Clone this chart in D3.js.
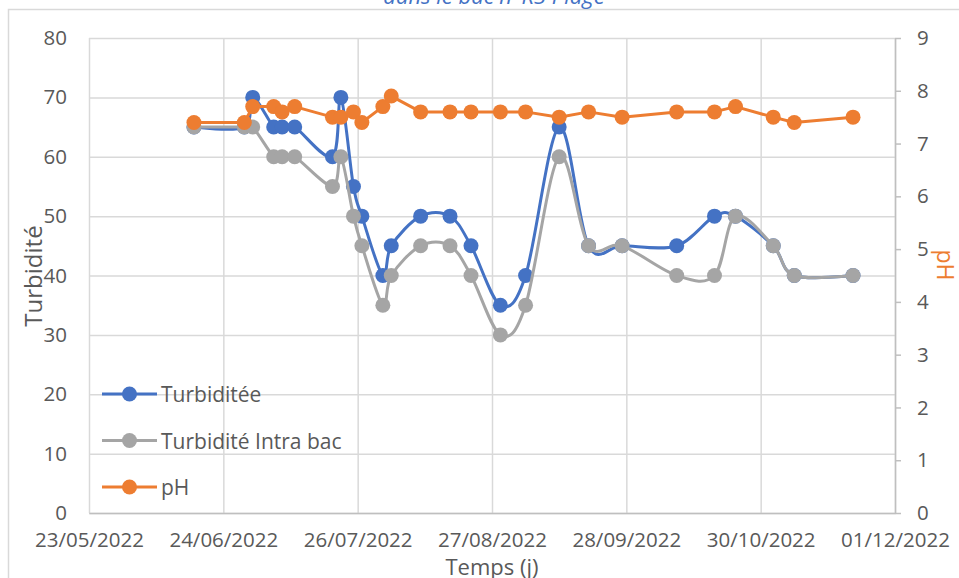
<!DOCTYPE html>
<html>
<head>
<meta charset="utf-8">
<script src="https://cdn.jsdelivr.net/npm/d3@7"></script>
<style>
  body { margin: 0; background: #fff; }
  svg { display: block; font-family: "Open Sans", sans-serif; }
</style>
</head>
<body>
<div id="chart"></div>
<script>
// sample dates (dd/mm/yyyy) and the three measured series
const dates = ['17/06/2022', '29/06/2022', '01/07/2022', '06/07/2022', '08/07/2022', '11/07/2022',
  '20/07/2022', '22/07/2022', '25/07/2022', '27/07/2022', '01/08/2022', '03/08/2022',
  '10/08/2022', '17/08/2022', '22/08/2022', '29/08/2022', '04/09/2022', '12/09/2022',
  '19/09/2022', '27/09/2022', '10/10/2022', '19/10/2022', '24/10/2022', '02/11/2022',
  '07/11/2022', '21/11/2022'];
const turbidite = [65, 65, 70, 65, 65, 65, 60, 70, 55, 50, 40, 45, 50, 50, 45, 35, 40, 65, 45, 45, 45, 50, 50, 45, 40, 40];
const turbiditeIntra = [65, 65, 65, 60, 60, 60, 55, 60, 50, 45, 35, 40, 45, 45, 40, 30, 35, 60, 45, 45, 40, 40, 50, 45, 40, 40];
const ph = [7.4, 7.4, 7.7, 7.7, 7.6, 7.7, 7.5, 7.5, 7.6, 7.4, 7.7, 7.9, 7.6, 7.6, 7.6, 7.6, 7.6, 7.5, 7.6, 7.5, 7.6, 7.6, 7.7, 7.5, 7.4, 7.5];

const xTicks = ['23/05/2022', '24/06/2022', '26/07/2022', '27/08/2022', '28/09/2022', '30/10/2022', '01/12/2022'];
const leftTicks = [0, 10, 20, 30, 40, 50, 60, 70, 80];
const rightTicks = [0, 1, 2, 3, 4, 5, 6, 7, 8, 9];

const seriesNames = ['Turbiditée', 'Turbidité Intra bac', 'pH'];
const colors = ['#4472C4', '#A5A5A5', '#ED7D31'];

const width = 959, height = 578;
const plot = { left: 89, right: 895, top: 38, bottom: 513 };
const textColor = '#595959';

const parse = d3.timeParse('%d/%m/%Y');
const fmt = d3.timeFormat('%d/%m/%Y');

const svg = d3.select('#chart').append('svg')
  .attr('width', width)
  .attr('height', height);

// chart frame (title box sits cut off above it)
svg.append('rect')
  .attr('x', 8.5).attr('y', 9.5)
  .attr('width', width + 20).attr('height', height + 20)
  .attr('fill', 'none').attr('stroke', '#d9d9d9').attr('stroke-width', 1.5);

svg.append('text')
  .attr('x', 494).attr('y', 4)
  .attr('text-anchor', 'middle')
  .attr('font-size', 22).attr('font-style', 'italic')
  .attr('fill', '#4472C4')
  .text('dans le bac n°R3 Plage');

const x = d3.scaleTime()
  .domain([parse(xTicks[0]), parse(xTicks[xTicks.length - 1])])
  .range([plot.left, plot.right]);
const yL = d3.scaleLinear().domain([0, 80]).range([plot.bottom, plot.top]);
const yR = d3.scaleLinear().domain([0, 9]).range([plot.bottom, plot.top]);

// gridlines
svg.append('g')
  .attr('transform', `translate(0,${plot.bottom})`)
  .call(d3.axisBottom(x).tickValues(xTicks.map(parse)).tickSize(-(plot.bottom - plot.top)).tickFormat(''))
  .call(g => g.select('.domain').remove())
  .call(g => g.selectAll('line').attr('stroke', '#d9d9d9').attr('stroke-width', 1.5));

svg.append('g')
  .attr('transform', `translate(${plot.left},0)`)
  .call(d3.axisLeft(yL).tickValues(leftTicks).tickSize(-(plot.right - plot.left)).tickFormat(''))
  .call(g => g.select('.domain').remove())
  .call(g => g.selectAll('line').attr('stroke', '#d9d9d9').attr('stroke-width', 1.5));

// bottom axis labels
const xAxis = svg.append('g')
  .attr('transform', `translate(0,${plot.bottom})`)
  .call(d3.axisBottom(x).tickValues(xTicks.map(parse)).tickSize(0).tickPadding(19).tickFormat(fmt));
xAxis.select('.domain').attr('stroke', '#bfbfbf').attr('stroke-width', 1.5);
xAxis.selectAll('text').attr('font-size', 20.5).attr('fill', textColor).attr('font-family', 'Open Sans');

// left axis labels
const yAxisL = svg.append('g')
  .attr('transform', `translate(${plot.left},0)`)
  .call(d3.axisLeft(yL).tickValues(leftTicks).tickSize(0).tickPadding(22));
yAxisL.select('.domain').remove();
yAxisL.selectAll('text').attr('font-size', 20.5).attr('fill', textColor).attr('font-family', 'Open Sans');

// right axis with small outward ticks
const yAxisR = svg.append('g')
  .attr('transform', `translate(${plot.right},0)`)
  .call(d3.axisRight(yR).tickValues(rightTicks).tickSizeInner(6).tickSizeOuter(0).tickPadding(16));
yAxisR.select('.domain').attr('stroke', '#bfbfbf').attr('stroke-width', 1.5);
yAxisR.selectAll('line').attr('stroke', '#bfbfbf').attr('stroke-width', 1.5);
yAxisR.selectAll('text').attr('font-size', 20.5).attr('fill', textColor).attr('font-family', 'Open Sans');

// axis titles
svg.append('text')
  .attr('transform', 'translate(32,276) rotate(-90)')
  .attr('text-anchor', 'middle').attr('dominant-baseline', 'central')
  .attr('font-size', 24).attr('fill', textColor)
  .text('Turbidité');
svg.append('text')
  .attr('transform', 'translate(946,265) rotate(90)')
  .attr('text-anchor', 'middle').attr('dominant-baseline', 'central')
  .attr('font-size', 23).attr('fill', '#ED7D31')
  .text('pH');
svg.append('text')
  .attr('x', 492).attr('y', 566)
  .attr('text-anchor', 'middle').attr('dominant-baseline', 'central')
  .attr('font-size', 22).attr('fill', textColor)
  .text('Temps (j)');

// series: turbidity lines smoothed like excel, pH straight
const series = [
  { values: turbidite, y: yL, curve: d3.curveCardinal.tension(0) },
  { values: turbiditeIntra, y: yL, curve: d3.curveCardinal.tension(0) },
  { values: ph, y: yR, curve: d3.curveLinear },
];

series.forEach((s, i) => {
  const pts = dates.map((d, j) => ({ date: parse(d), v: s.values[j] }));
  const line = d3.line().x(d => x(d.date)).y(d => s.y(d.v)).curve(s.curve);
  const g = svg.append('g');
  g.append('path')
    .datum(pts)
    .attr('d', line)
    .attr('fill', 'none')
    .attr('stroke', colors[i])
    .attr('stroke-width', 3)
    .attr('stroke-linejoin', 'round');
  g.selectAll('circle')
    .data(pts)
    .join('circle')
    .attr('cx', d => x(d.date))
    .attr('cy', d => s.y(d.v))
    .attr('r', 7.5)
    .attr('fill', colors[i]);
});

// legend inside plot, bottom left
const legend = svg.append('g').selectAll('g')
  .data(seriesNames)
  .join('g')
  .attr('transform', (d, i) => `translate(102,${394 + i * 46.5})`);
legend.append('line')
  .attr('x1', 0).attr('x2', 55)
  .attr('stroke', (d, i) => colors[i]).attr('stroke-width', 3);
legend.append('circle')
  .attr('cx', 27.5).attr('r', 7.5)
  .attr('fill', (d, i) => colors[i]);
legend.append('text')
  .attr('x', 59).attr('dominant-baseline', 'central')
  .attr('font-size', 21).attr('fill', textColor)
  .text(d => d);
</script>
</body>
</html>
